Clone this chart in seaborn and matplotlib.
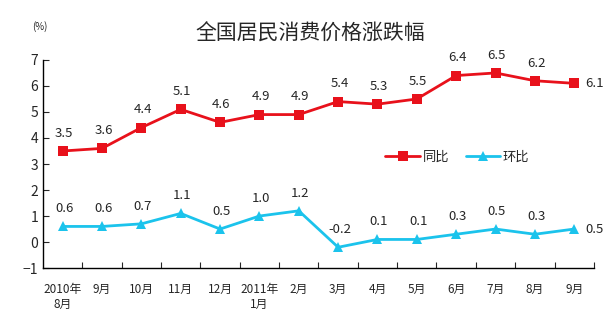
import matplotlib
matplotlib.use("Agg")
import matplotlib.pyplot as plt
import seaborn as sns
import pandas as pd
import numpy as np

categories = ["2010年\n8月", "9月", "10月", "11月", "12月", "2011年\n1月", "2月",
              "3月", "4月", "5月", "6月", "7月", "8月", "9月"]
yoy = [3.5, 3.6, 4.4, 5.1, 4.6, 4.9, 4.9, 5.4, 5.3, 5.5, 6.4, 6.5, 6.2, 6.1]
mom = [0.6, 0.6, 0.7, 1.1, 0.5, 1.0, 1.2, -0.2, 0.1, 0.1, 0.3, 0.5, 0.3, 0.5]
series_names = ["同比", "环比"]
colors = ["#E8111B", "#1BC3EC"]

sns.set_theme(style="white")
plt.rcParams['font.family'] = ['Noto Sans CJK SC', 'DejaVu Sans']

df = pd.DataFrame({
    "x": list(range(len(categories))) * 2,
    "value": yoy + mom,
    "series": [series_names[0]] * len(yoy) + [series_names[1]] * len(mom),
})

fig = plt.figure(figsize=(6.11, 3.33), dpi=100)
ax = fig.add_axes([0.0704, 0.195, 0.9016, 0.625])

sns.lineplot(data=df, x="x", y="value", hue="series", style="series",
             palette=colors, markers=["s", "^"], dashes=False,
             markersize=7.5, markeredgewidth=0, linewidth=2, ax=ax)

ax.set_xlim(-0.5, len(categories) - 0.5)
ax.set_ylim(-1, 7)
ax.set_yticks(range(-1, 8))
ax.set_xticks(range(len(categories)))
ax.set_xticklabels(categories, fontsize=8.5)
ax.set_xticks(np.arange(0.5, len(categories) - 0.5 + 0.01, 1.0), minor=True)
ax.tick_params(axis='x', which='major', length=0, pad=11)
ax.tick_params(axis='x', which='minor', length=4, direction='in', bottom=True, width=0.8)
ax.tick_params(axis='y', length=4, direction='in', left=True, width=0.8, labelsize=10)
ax.set_xlabel("")
ax.set_ylabel("")
for s in ["top", "right"]:
    ax.spines[s].set_visible(False)
for s in ["left", "bottom"]:
    ax.spines[s].set_color("black")
    ax.spines[s].set_linewidth(1.0)

n = len(categories)
for series in (yoy, mom):
    for i, v in enumerate(series):
        if i == n - 1:
            ax.annotate(f"{v:.1f}", (i, v), xytext=(8, 0), textcoords="offset points",
                        ha="left", va="center", fontsize=9.5)
        else:
            ax.annotate(f"{v:.1f}", (i, v), xytext=(1, 8), textcoords="offset points",
                        ha="center", va="bottom", fontsize=9.5)

leg = ax.legend(loc="upper left", bbox_to_anchor=(0.6, 0.62), ncol=2, frameon=False,
                fontsize=9.5, handlelength=2.6, columnspacing=1.3, handletextpad=0.2)

fig.text(0.508, 0.9, "全国居民消费价格涨跌幅", ha="center", va="center", fontsize=15)
fig.text(0.065, 0.92, "(%)", ha="center", va="center", fontsize=7)

fig.savefig("out.png", dpi=100)
